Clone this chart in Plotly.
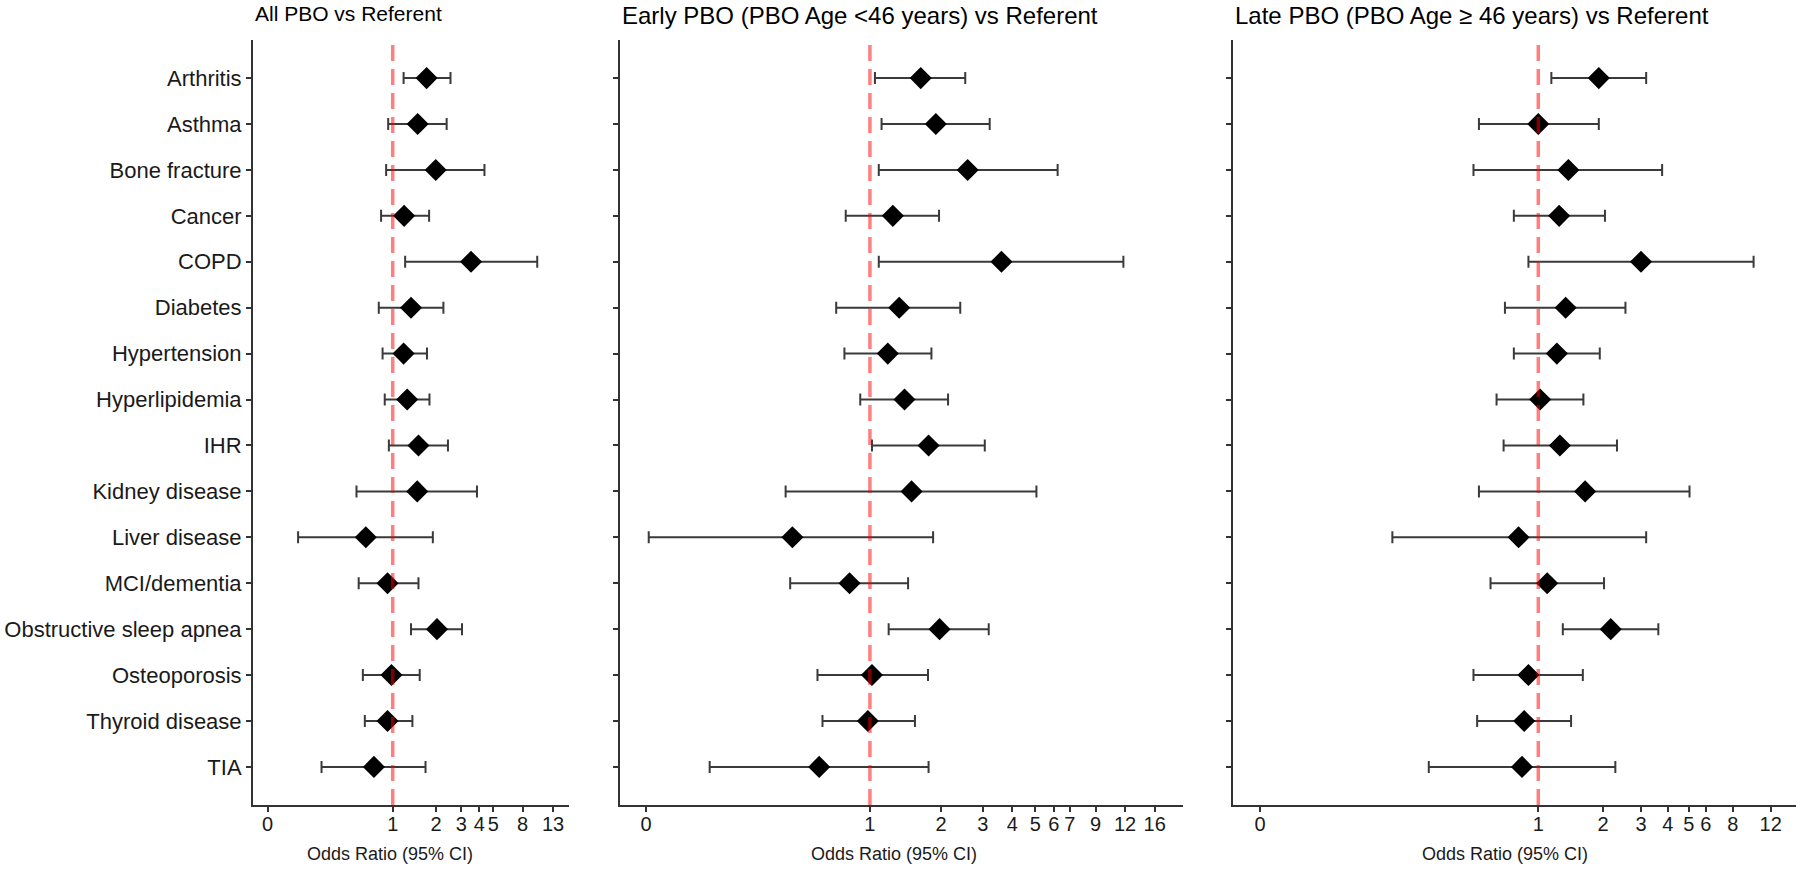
import plotly.graph_objects as go

conditions = ["Arthritis", "Asthma", "Bone fracture", "Cancer", "COPD", "Diabetes",
              "Hypertension", "Hyperlipidemia", "IHR", "Kidney disease", "Liver disease",
              "MCI/dementia", "Obstructive sleep apnea", "Osteoporosis", "Thyroid disease", "TIA"]

# Panel 1: All PBO vs Referent
all_or = [1.72, 1.49, 1.99, 1.20, 3.50, 1.34, 1.19, 1.26, 1.51, 1.48, 0.65, 0.92, 2.03, 0.98, 0.92, 0.74]
all_lo = [1.19, 0.93, 0.90, 0.83, 1.22, 0.80, 0.85, 0.88, 0.94, 0.56, 0.22, 0.58, 1.34, 0.62, 0.64, 0.32]
all_hi = [2.52, 2.37, 4.34, 1.79, 10.1, 2.25, 1.73, 1.80, 2.42, 3.85, 1.90, 1.51, 3.03, 1.54, 1.37, 1.69]

# Panel 2: Early PBO
early_or = [1.64, 1.90, 2.59, 1.25, 3.60, 1.33, 1.19, 1.40, 1.77, 1.50, 0.47, 0.82, 1.97, 1.02, 0.98, 0.61]
early_lo = [1.05, 1.12, 1.09, 0.79, 1.09, 0.72, 0.78, 0.91, 1.02, 0.44, 0.116, 0.46, 1.20, 0.60, 0.63, 0.21]
early_hi = [2.53, 3.21, 6.22, 1.96, 11.8, 2.41, 1.82, 2.14, 3.06, 5.06, 1.85, 1.45, 3.18, 1.76, 1.55, 1.77]

# Panel 3: Late PBO
late_or = [1.91, 1.00, 1.38, 1.25, 3.00, 1.34, 1.22, 1.02, 1.26, 1.65, 0.81, 1.10, 2.17, 0.90, 0.86, 0.84]
late_lo = [1.15, 0.53, 0.50, 0.77, 0.90, 0.70, 0.77, 0.64, 0.69, 0.53, 0.21, 0.60, 1.30, 0.50, 0.52, 0.31]
late_hi = [3.17, 1.91, 3.76, 2.04, 10.0, 2.54, 1.93, 1.62, 2.32, 5.04, 3.17, 2.02, 3.61, 1.61, 1.42, 2.28]

panel_titles = ["All PBO vs Referent",
                "Early PBO (PBO Age <46 years) vs Referent",
                "Late PBO (PBO Age \u2265 46 years) vs Referent"]
title_sizes = [21, 24, 24]

tick_vals_1 = [0.135, 1, 2, 3, 4, 5, 8, 13]
tick_text_1 = ["0", "1", "2", "3", "4", "5", "8", "13"]
tick_vals_2 = [0.113, 1, 2, 3, 4, 5, 6, 7, 9, 12, 16]
tick_text_2 = ["0", "1", "2", "3", "4", "5", "6", "7", "9", "12", "16"]
tick_vals_3 = [0.051, 1, 2, 3, 4, 5, 6, 8, 12]
tick_text_3 = ["0", "1", "2", "3", "4", "5", "6", "8", "12"]

W, H = 1800, 869
x_ranges = [[-0.971, 1.225], [-1.057, 1.324], [-1.418, 1.197]]
x_domains = [[253 / W, 569 / W], [620 / W, 1183 / W], [1233 / W, 1796 / W]]
y_domain = [(H - 805) / H, (H - 40) / H]
xtitle_centers = [390 / W, 894 / W, 1505 / W]

FONT = "Liberation Sans, Arial, Helvetica, sans-serif"
AXIS_COLOR = "#333333"

panels = [
    (all_or, all_lo, all_hi, tick_vals_1, tick_text_1),
    (early_or, early_lo, early_hi, tick_vals_2, tick_text_2),
    (late_or, late_lo, late_hi, tick_vals_3, tick_text_3),
]

fig = go.Figure()
layout = dict(
    width=W, height=H, autosize=False,
    margin=dict(l=0, r=0, t=0, b=0),
    paper_bgcolor="white", plot_bgcolor="white",
    showlegend=False,
    font=dict(family=FONT, color="#1a1a1a"),
    shapes=[], annotations=[],
)

for i, (orv, lo, hi, tv, tt) in enumerate(panels):
    n = "" if i == 0 else str(i + 1)
    xa, ya = "x" + n, "y" + n
    fig.add_trace(go.Scatter(
        x=orv, y=conditions, mode="markers",
        marker=dict(symbol="diamond", size=17, color="black", line=dict(width=0)),
        error_x=dict(type="data", symmetric=False,
                     array=[h - o for h, o in zip(hi, orv)],
                     arrayminus=[o - l for o, l in zip(orv, lo)],
                     color="#3a3a3a", thickness=2, width=6),
        xaxis=xa, yaxis=ya, hoverinfo="skip",
    ))
    layout["xaxis" + n] = dict(
        type="log", range=x_ranges[i], domain=x_domains[i], anchor=ya,
        tickmode="array", tickvals=tv, ticktext=tt,
        showgrid=False, zeroline=False,
        showline=True, linecolor=AXIS_COLOR, linewidth=2,
        ticks="outside", ticklen=5, tickwidth=1.5, tickcolor=AXIS_COLOR,
        ticklabelstandoff=-5,
        tickfont=dict(size=20, color="#1a1a1a", family=FONT),
    )
    layout["yaxis" + n] = dict(
        type="category", categoryorder="array", categoryarray=conditions,
        range=[15.83, -0.83], domain=y_domain, anchor=xa,
        showgrid=False, zeroline=False,
        showline=True, linecolor=AXIS_COLOR, linewidth=2,
        ticks="outside", ticklen=5, tickwidth=1.5, tickcolor=AXIS_COLOR,
        showticklabels=(i == 0),
        tickfont=dict(size=22, color="#1a1a1a", family=FONT),
    )
    layout["shapes"].append(dict(
        type="line", xref=xa, yref=ya + " domain", x0=1, x1=1, y0=0, y1=1,
        line=dict(color="rgba(255,0,0,0.5)", width=3.5, dash="16px,8px"),
        layer="above",
    ))
    layout["annotations"].append(dict(
        text=panel_titles[i], xref="paper", yref="paper",
        x=x_domains[i][0], y=1.0, xanchor="left", yanchor="top",
        showarrow=False, font=dict(size=title_sizes[i], color="black", family=FONT),
    ))
    layout["annotations"].append(dict(
        text="Odds Ratio (95% CI)", xref="paper", yref="paper",
        x=xtitle_centers[i], y=(H - 854) / H,
        xanchor="center", yanchor="middle",
        showarrow=False, font=dict(size=18, color="#1a1a1a", family=FONT),
    ))

fig.update_layout(**layout)
fig.write_html("out.html",
               config={"displayModeBar": False},
               post_script="document.body.style.margin='0';document.body.style.overflow='hidden';")
